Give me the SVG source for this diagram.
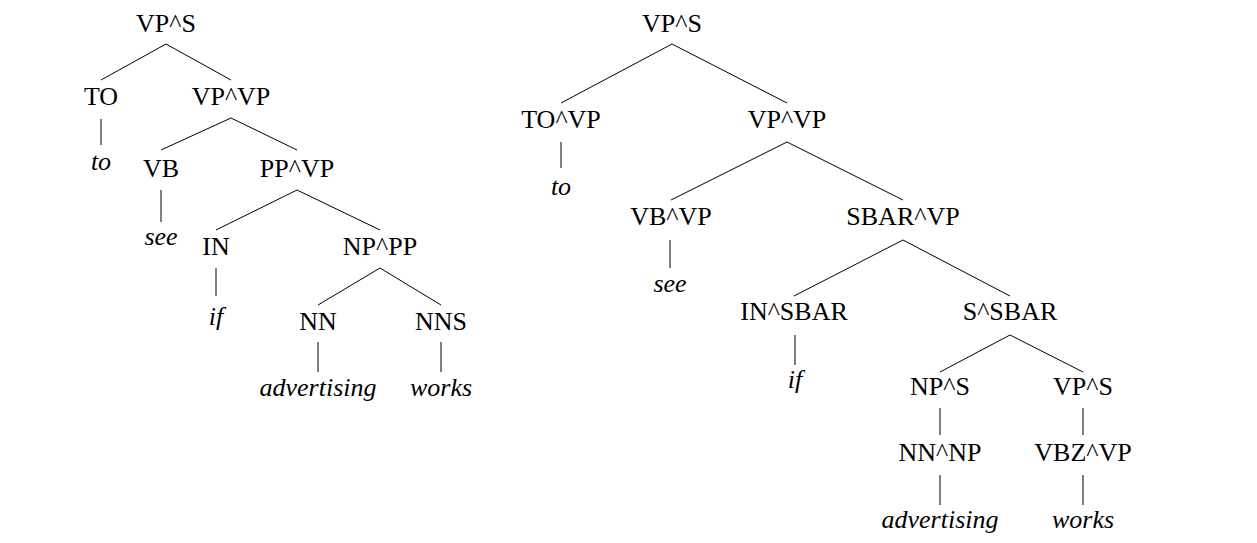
<svg xmlns="http://www.w3.org/2000/svg" width="1257" height="543" viewBox="0 0 1257 543">
<style>
text{font-family:'Liberation Serif','Times New Roman','DejaVu Serif',serif;font-size:26px;text-anchor:middle;fill:#000}
.w{font-style:italic}
line{stroke:#000;stroke-width:1}
</style>
<rect width="1257" height="543" fill="#fff"/>
<g id="connectors">
<line x1="166" y1="44" x2="101" y2="80"/><line x1="166" y1="44" x2="231" y2="80"/>
<line x1="101" y1="119" x2="101" y2="145"/>
<line x1="231" y1="118" x2="161" y2="150"/><line x1="231" y1="118" x2="297" y2="150"/>
<line x1="161" y1="190" x2="161" y2="222"/>
<line x1="297" y1="190" x2="216" y2="230"/><line x1="297" y1="190" x2="380" y2="230"/>
<line x1="216" y1="268" x2="216" y2="296"/>
<line x1="380" y1="268" x2="318" y2="305"/><line x1="380" y1="268" x2="441" y2="305"/>
<line x1="318" y1="342" x2="318" y2="372"/><line x1="441" y1="342" x2="441" y2="372"/>
<line x1="672" y1="44" x2="561" y2="103"/><line x1="672" y1="44" x2="787" y2="103"/>
<line x1="561" y1="142" x2="561" y2="168"/>
<line x1="787" y1="142" x2="671" y2="200"/><line x1="787" y1="142" x2="903" y2="200"/>
<line x1="670" y1="240" x2="670" y2="268"/>
<line x1="903" y1="240" x2="794" y2="296"/><line x1="903" y1="240" x2="1010" y2="296"/>
<line x1="795" y1="335" x2="795" y2="365"/>
<line x1="1010" y1="335" x2="940" y2="372"/><line x1="1010" y1="335" x2="1083" y2="372"/>
<line x1="940" y1="408" x2="940" y2="435"/><line x1="1083" y1="408" x2="1083" y2="435"/>
<line x1="940" y1="475" x2="940" y2="505"/><line x1="1083" y1="475" x2="1083" y2="505"/>
</g>
<g id="l-vps"><text x="166" y="32">VP^S</text></g>
<g id="l-to"><text x="101" y="105">TO</text></g>
<g id="l-vpvp"><text x="231" y="105">VP^VP</text></g>
<g id="l-tow"><text class="w" x="101" y="170">to</text></g>
<g id="l-vb"><text x="161" y="177">VB</text></g>
<g id="l-ppvp"><text x="297" y="177">PP^VP</text></g>
<g id="l-see"><text class="w" x="161" y="245">see</text></g>
<g id="l-in"><text x="216" y="255">IN</text></g>
<g id="l-nppp"><text x="380" y="255">NP^PP</text></g>
<g id="l-if"><text class="w" x="216" y="325">if</text></g>
<g id="l-nn"><text x="318" y="330">NN</text></g>
<g id="l-nns"><text x="441" y="330">NNS</text></g>
<g id="l-adv"><text class="w" x="318" y="396">advertising</text></g>
<g id="l-works"><text class="w" x="441" y="396">works</text></g>
<g id="r-vps"><text x="672" y="32">VP^S</text></g>
<g id="r-tovp"><text x="561" y="128">TO^VP</text></g>
<g id="r-vpvp"><text x="787" y="128">VP^VP</text></g>
<g id="r-tow"><text class="w" x="561" y="195">to</text></g>
<g id="r-vbvp"><text x="671" y="225">VB^VP</text></g>
<g id="r-sbarvp"><text x="903" y="225">SBAR^VP</text></g>
<g id="r-see"><text class="w" x="670" y="292">see</text></g>
<g id="r-insbar"><text x="794" y="320">IN^SBAR</text></g>
<g id="r-ssbar"><text x="1010" y="320">S^SBAR</text></g>
<g id="r-if"><text class="w" x="795" y="388">if</text></g>
<g id="r-nps"><text x="940" y="395">NP^S</text></g>
<g id="r-vps2"><text x="1083" y="395">VP^S</text></g>
<g id="r-nnnp"><text x="940" y="461">NN^NP</text></g>
<g id="r-vbzvp"><text x="1083" y="461">VBZ^VP</text></g>
<g id="r-adv"><text class="w" x="940" y="528">advertising</text></g>
<g id="r-works"><text class="w" x="1083" y="528">works</text></g>
</svg>
